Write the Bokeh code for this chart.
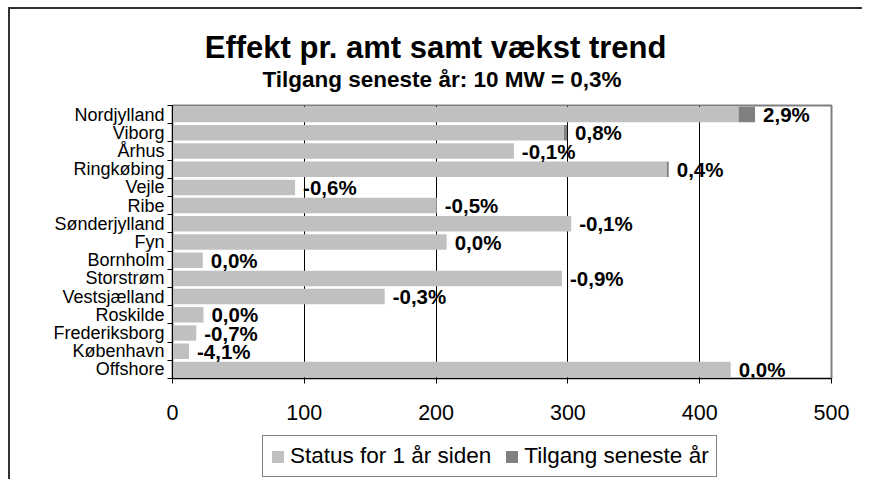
from bokeh.plotting import figure
from bokeh.layouts import column
from bokeh.models import Range1d, FixedTicker, Legend, LegendItem, Label
from bokeh.core.properties import value
from bokeh.embed import file_html
from bokeh.resources import INLINE

# ---- data ----
counties = ["Nordjylland", "Viborg", "Århus", "Ringkøbing", "Vejle", "Ribe",
            "Sønderjylland", "Fyn", "Bornholm", "Storstrøm", "Vestsjælland",
            "Roskilde", "Frederiksborg", "København", "Offshore"]
status_prev = [429.5, 297, 259, 375, 93, 200.5, 302.5, 208, 23, 295.5, 161,
               23.5, 18, 12.5, 423.5]
addition = [12.5, 2.4, 0, 1.5, 0, 0, 0, 0, 0, 0, 0, 0, 0, 0, 0]
growth = ["2,9%", "0,8%", "-0,1%", "0,4%", "-0,6%", "-0,5%", "-0,1%", "0,0%",
          "0,0%", "-0,9%", "-0,3%", "0,0%", "-0,7%", "-4,1%", "0,0%"]
x_ticks = [0, 100, 200, 300, 400, 500]
title_text = "Effekt pr. amt samt vækst trend"
subtitle_text = "Tilgang seneste år: 10 MW = 0,3%"
series_names = ["Status for 1 år siden", "Tilgang seneste år"]

FONT = "Liberation Sans"
LIGHT = "#C0C0C0"
DARK = "#808080"
W = 852
n = len(counties)
ypos = [i + 0.5 for i in range(n)]
totals = [s + a for s, a in zip(status_prev, addition)]

# ---- title strip ----
TH = 86
tf = figure(width=W, height=TH, output_backend="svg", toolbar_location=None,
            x_range=Range1d(0, 500), y_range=Range1d(0, TH),
            x_axis_type=None, y_axis_type=None, min_border=0)
tf.outline_line_color = None
tf.xgrid.grid_line_color = None
tf.ygrid.grid_line_color = None
tf.add_layout(Label(x=199.6, y=TH - 38, text=title_text, text_font=FONT,
                    text_font_style="bold", text_font_size="31px",
                    text_color="black", text_align="center",
                    text_baseline="middle"))
tf.add_layout(Label(x=204.5, y=TH - 70, text=subtitle_text, text_font=FONT,
                    text_font_style="bold", text_font_size="22.5px",
                    text_color="black", text_align="center",
                    text_baseline="middle"))

# ---- main chart ----
p = figure(width=W, height=334, output_backend="svg", toolbar_location=None,
           x_range=Range1d(0, 500), y_range=Range1d(n, 0),
           min_border_left=162, min_border_right=31, min_border_top=10,
           min_border_bottom=51)

p.outline_line_color = DARK
p.outline_line_width = 2

p.hbar(y=ypos, left=0, right=status_prev, height=0.85,
       fill_color=LIGHT, line_color=None)
p.hbar(y=ypos, left=status_prev, right=totals, height=0.85,
       fill_color=DARK, line_color=None)

p.text(x=totals, y=ypos, text=growth, x_offset=8, y_offset=0,
       text_baseline="middle", text_align="left",
       text_font=value(FONT), text_font_style="bold",
       text_font_size="20.5px", text_color="black")

p.xaxis.ticker = FixedTicker(ticks=x_ticks)
p.xaxis.axis_line_color = "black"
p.xaxis.major_tick_in = 0
p.xaxis.major_tick_out = 5
p.xaxis.minor_tick_line_color = None
p.xaxis.major_label_text_font = FONT
p.xaxis.major_label_text_font_size = "21.5px"
p.xaxis.major_label_text_color = "black"
p.xaxis.major_label_standoff = 21
p.xgrid.ticker = FixedTicker(ticks=x_ticks)
p.xgrid.grid_line_color = "black"
p.xgrid.grid_line_width = 1
p.ygrid.grid_line_color = None

p.yaxis.ticker = FixedTicker(ticks=ypos, minor_ticks=list(range(n + 1)))
p.yaxis.major_label_overrides = {y: c for y, c in zip(ypos, counties)}
p.yaxis.major_tick_line_color = None
p.yaxis.major_tick_in = 0
p.yaxis.major_tick_out = 0
p.yaxis.minor_tick_in = 0
p.yaxis.minor_tick_out = 5
p.yaxis.minor_tick_line_color = "black"
p.yaxis.axis_line_color = "black"
p.yaxis.major_label_text_font = FONT
p.yaxis.major_label_text_font_size = "18px"
p.yaxis.major_label_text_color = "black"
p.yaxis.major_label_standoff = 3

# ---- legend strip (series drawn off-view, only the legend shows) ----
lg = figure(width=W, height=50, output_backend="svg", toolbar_location=None,
            x_range=Range1d(0, 500), y_range=Range1d(100, 101),
            x_axis_type=None, y_axis_type=None, min_border=0)
lg.outline_line_color = None
lg.xgrid.grid_line_color = None
lg.ygrid.grid_line_color = None
lr1 = lg.hbar(y=ypos, left=0, right=status_prev, height=0.85,
              fill_color=LIGHT, line_color=None)
lr2 = lg.hbar(y=ypos, left=status_prev, right=totals, height=0.85,
              fill_color=DARK, line_color=None)
legend = Legend(items=[LegendItem(label=series_names[0], renderers=[lr1]),
                       LegendItem(label=series_names[1], renderers=[lr2])],
                orientation="horizontal", location=(90, 2))
legend.label_text_font = FONT
legend.label_text_font_size = "22.5px"
legend.label_text_color = "black"
legend.label_height = 22
legend.glyph_height = 15
legend.glyph_width = 15
legend.padding = 7
legend.spacing = 13
legend.label_standoff = 5
legend.margin = 0
legend.border_line_color = "black"
legend.border_line_width = 1
lg.add_layout(legend, "center")

layout = column(tf, p, lg, spacing=0)
layout.styles = {"margin-left": "8px", "margin-top": "7px",
                 "border-left": "2px solid #333333",
                 "border-top": "2px solid #333333"}

open("out.html", "w").write(file_html(layout, INLINE))
